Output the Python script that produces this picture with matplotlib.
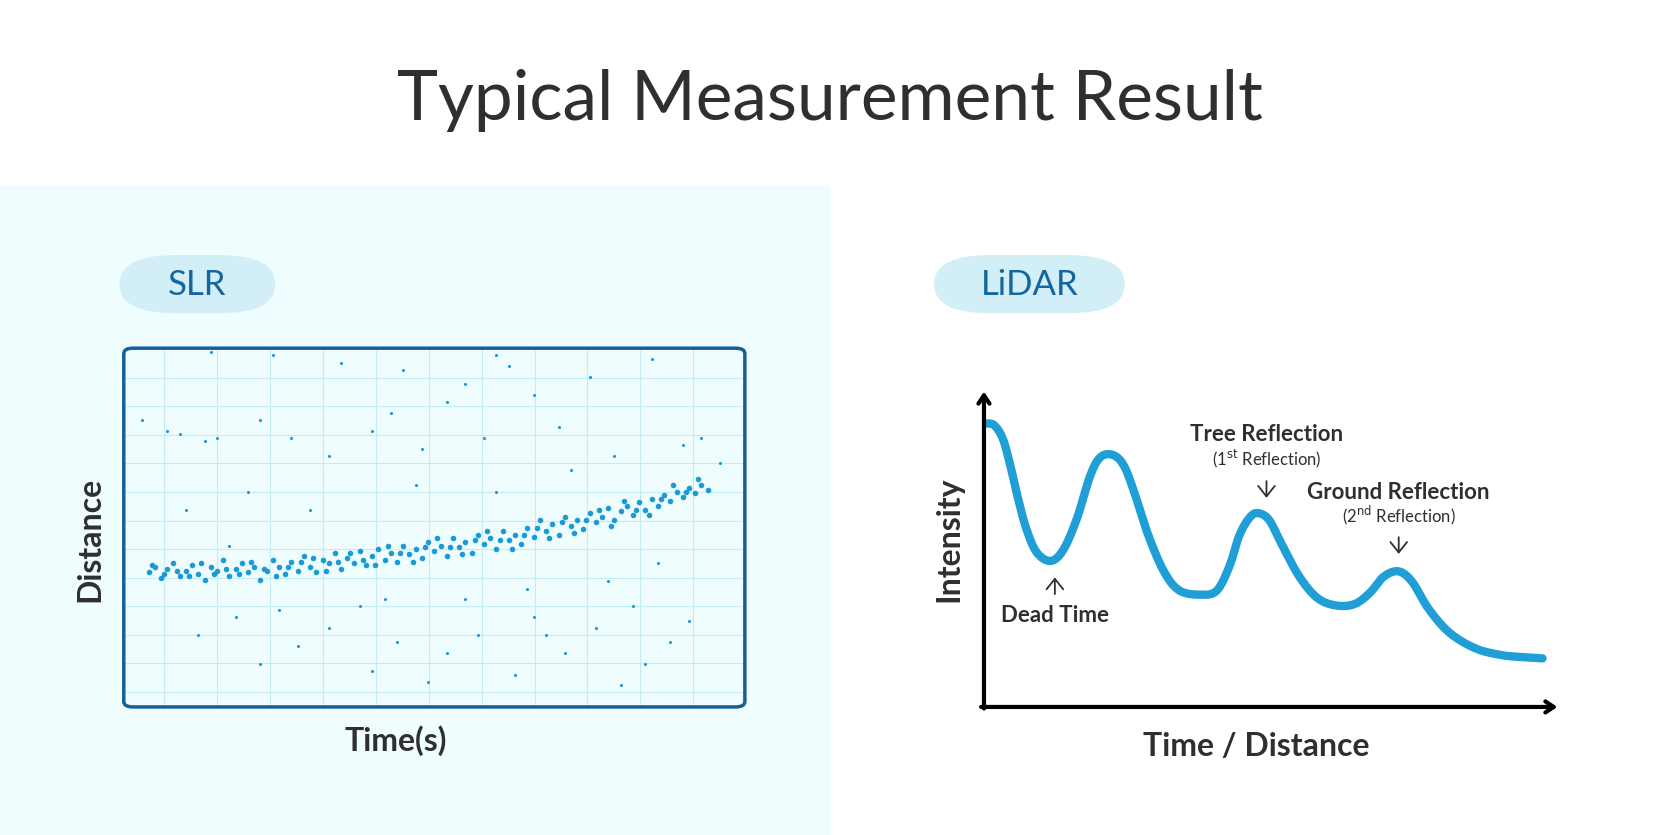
import matplotlib
matplotlib.use("Agg")
import matplotlib.pyplot as plt
from matplotlib.patches import FancyBboxPatch, Rectangle, FancyArrowPatch
import numpy as np

plt.rcParams["font.family"] = "Lato"

# ---------------- data ----------------
band_x = [4,5,6,7,8,9,10,11,12,13,14,15,16,17,18,19,20,21,22,23,24,25,26,27,28,29,30,31,32,33,34,35,36,37,38,39,40,41,42,43,44,45,46,47,48,49,50,51,52,53,54,55,56,57,58,59,60,61,62,63,64,65,66,67,68,69,70,71,72,73,74,75,76,77,78,79,80,81,82,83,84,85,86,87,88,89,90,91,92,93,94,
          4.5,6.5,8.5,10.5,12.5,14.5,16.5,18.5,20.5,22.5,24.5,26.5,28.5,30.5,32.5,34.5,36.5,38.5,40.5,42.5,44.5,46.5,48.5,50.5,52.5,54.5,56.5,58.5,60.5,62.5,64.5,66.5,68.5,70.5,72.5,74.5,76.5,78.5,80.5,82.5,84.5,86.5,88.5,90.5,92.5]
band_y = [37.5,39,36,38.5,40,36.5,38,39.5,37,35.5,39,38,41,36.5,38.5,40,37.5,39,35.5,38,41,39,37,40.5,38,42,39,37.5,41,40,43,38.5,41.5,40,43.5,39.5,42,44,41,43,40.5,45,42.5,44,41.5,46,43.5,45,42,47,44.5,46,43,48,45.5,47,44,49,46.5,48,45.5,50,47.5,52,49,51,48,53,50.5,52,49.5,54,51.5,53,55.5,52,54.5,56,53.5,57,55,58,56,59,57.5,60,58.5,61,59.5,62,60.5,
          39.5,37,38,36.5,40,37,38.5,37,40.5,38.5,36.5,39,40.5,41.5,38,40.5,43,41,39.5,45,43,40.5,44.5,47,44.5,42.5,46.5,49,46.5,44,48,50,47,51.5,48.5,52,55,50.5,57.5,55,53.5,58,62,60,63.5]
out_x = [7,9,13,15,22,27,33,40,43,48,52,55,58,62,66,70,75,79,85,90,14,24,35,45,60,12,18,22,28,33,40,44,49,52,57,63,66,71,76,80,84,88,91,10,20,30,38,47,55,65,72,78,86,93,96,3,17,25,42,60,68,82]
out_y = [77,76,74,75,80,75,70,77,82,72,85,90,75,95,87,78,92,70,97,73,99,98,96,94,98,20,25,12,17,22,10,18,7,15,20,9,25,15,22,6,12,18,24,55,60,55,28,62,30,33,66,35,40,75,68,80,45,27,30,60,20,28]

lidar_t = [0.4,1.8,3.3,4.6,5.9,7.4,9.2,11.6,13.8,16.2,18.5,20.3,22.5,24.4,26.2,28.6,31.4,34.1,37.8,40.6,42.8,44.6,46.5,48.0,49.8,52.0,55.0,58.1,61.3,64.6,67.3,69.7,72.3,74.7,77.5,81.2,85.8,90.4,94.1,97.4]
lidar_i = [89.9,89.3,85.0,76.5,66.4,56.4,49.0,46.3,49.7,59.7,73.2,79.2,79.9,76.5,68.1,54.7,42.9,36.9,35.6,36.9,44.6,54.7,60.4,61.4,59.1,51.3,41.3,34.6,32.2,32.6,36.2,41.3,43.0,39.6,31.2,23.5,18.5,16.4,15.8,15.4]

# ---------------- layout helpers (1568x789 basis) ----------------
W, H = 1568.0, 789.0
fx = lambda x: x / W
fy = lambda y: 1 - y / H

fig = plt.figure(figsize=(16.59, 8.35), dpi=100)
fig.patch.set_facecolor("white")

bg = fig.add_axes([0, 0, fx(785), fy(175)], zorder=-5)
bg.set_facecolor("#effdfe"); bg.set_axis_off()
bg.add_patch(Rectangle((0, 0), 1, 1, transform=bg.transAxes, facecolor="#effdfe", edgecolor="none"))

fig.text(0.5, fy(95), "Typical Measurement Result", ha="center", va="center",
         fontsize=50, color="#2f2f2f")

def pill(x0, x1, label):
    fig.patches.append(FancyBboxPatch((fx(x0), fy(296)), fx(x1 - x0), fy(241) - fy(296),
                                      boxstyle="round,pad=0,rounding_size=0.034",
                                      transform=fig.transFigure,
                                      facecolor="#d2eef7", edgecolor="none"))
    fig.text(fx((x0 + x1) / 2), fy(269), label, ha="center", va="center",
             fontsize=25, color="#14679e")

pill(113, 260, "SLR")
pill(883, 1063, "LiDAR")

# ---------------- SLR scatter ----------------
ax = fig.add_axes([fx(117), fy(668), fx(704 - 117), fy(329) - fy(668)], zorder=3)
ax.set_xlim(0, 100)
ax.set_ylim(0, 100)
ax.set_facecolor("none")
for s in ax.spines.values():
    s.set_visible(False)
ax.set_xticks([]); ax.set_yticks([])
for gx in np.arange(6.5, 100, 8.52):
    ax.axvline(gx, color="#c6ecf3", lw=0.8, zorder=1)
for gy in np.arange(100 - 8.26, 0, -7.96):
    ax.axhline(gy, color="#c6ecf3", lw=0.8, zorder=1)
ax.scatter(band_x, band_y, s=16, color="#1b9ad6", lw=0, zorder=3)
ax.scatter(out_x, out_y, s=5, color="#1b9ad6", lw=0, zorder=3)
ax.add_patch(FancyBboxPatch((0, 0), 1, 1, boxstyle="round,pad=0,rounding_size=0.015",
                            transform=ax.transAxes, facecolor="none",
                            edgecolor="#175f98", lw=2.5, clip_on=False, zorder=5))
fig.text(fx(85), fy(510), "Distance", rotation=90, ha="center", va="center",
         fontsize=23, fontweight="bold", color="#2f2f2f")
fig.text(fx(374), fy(700), "Time(s)", ha="center", va="center",
         fontsize=23, fontweight="bold", color="#2f2f2f")

# ---------------- LiDAR ----------------
def catmull(xs, ys, n=12):
    P = np.column_stack([xs, ys])
    P = np.vstack([P[0], P, P[-1]])
    out = []
    for i in range(1, len(P) - 2):
        p0, p1, p2, p3 = P[i - 1], P[i], P[i + 1], P[i + 2]
        for t in np.linspace(0, 1, n, endpoint=False):
            out.append(0.5 * ((2 * p1) + (-p0 + p2) * t + (2 * p0 - 5 * p1 + 4 * p2 - p3) * t * t
                              + (-p0 + 3 * p1 - 3 * p2 + p3) * t ** 3))
    out.append(P[-2])
    out = np.array(out)
    return out[:, 0], out[:, 1]

ax2 = fig.add_axes([fx(930), fy(668), fx(1472 - 930), fy(370) - fy(668)], zorder=3)
ax2.set_xlim(0, 100)
ax2.set_ylim(0, 100)
ax2.set_facecolor("none")
for s in ax2.spines.values():
    s.set_visible(False)
ax2.set_xticks([]); ax2.set_yticks([])
sx, sy = catmull(lidar_t, lidar_i)
ax2.plot(sx, sy, color="#1f9fd6", lw=6, solid_capstyle="round",
         solid_joinstyle="round", zorder=3)
akw = dict(arrowstyle="->,head_length=0.6,head_width=0.4", color="black", lw=3)
ax2.annotate("", xy=(0, 1.0), xytext=(0, -0.005), xycoords="axes fraction",
             arrowprops=dict(**akw, shrinkA=0, shrinkB=0), annotation_clip=False)
ax2.annotate("", xy=(1.0, 0), xytext=(-0.005, 0), xycoords="axes fraction",
             arrowprops=dict(**akw, shrinkA=0, shrinkB=0), annotation_clip=False)

fig.text(fx(897), fy(510), "Intensity", rotation=90, ha="center", va="center",
         fontsize=23, fontweight="bold", color="#2f2f2f")
fig.text(fx(1187), fy(705), "Time / Distance", ha="center", va="center",
         fontsize=23, fontweight="bold", color="#2f2f2f")

def note(x, y, s, **kw):
    fig.text(fx(x), fy(y), s, ha="center", va="center", color="#2f2f2f", **kw)

def small_arrow(x, y0, y1):
    fig.add_artist(FancyArrowPatch(
        (fx(x), fy(y0)), (fx(x), fy(y1)), transform=fig.transFigure,
        arrowstyle="->,head_length=5,head_width=4", color="#2f2f2f", lw=1.3,
        mutation_scale=1.5))

note(1197, 411, "Tree Reflection", fontsize=16, fontweight="bold")
note(1197, 434, "(1$^{\\mathrm{st}}$ Reflection)", fontsize=12)
small_arrow(1197, 452, 473)
note(1322, 465, "Ground Reflection", fontsize=16, fontweight="bold")
note(1322, 487, "(2$^{\\mathrm{nd}}$ Reflection)", fontsize=12)
small_arrow(1322, 505, 526)
small_arrow(997, 564, 543)
note(997, 582, "Dead Time", fontsize=16, fontweight="bold")

fig.savefig("out.png", dpi=100, facecolor="white")
